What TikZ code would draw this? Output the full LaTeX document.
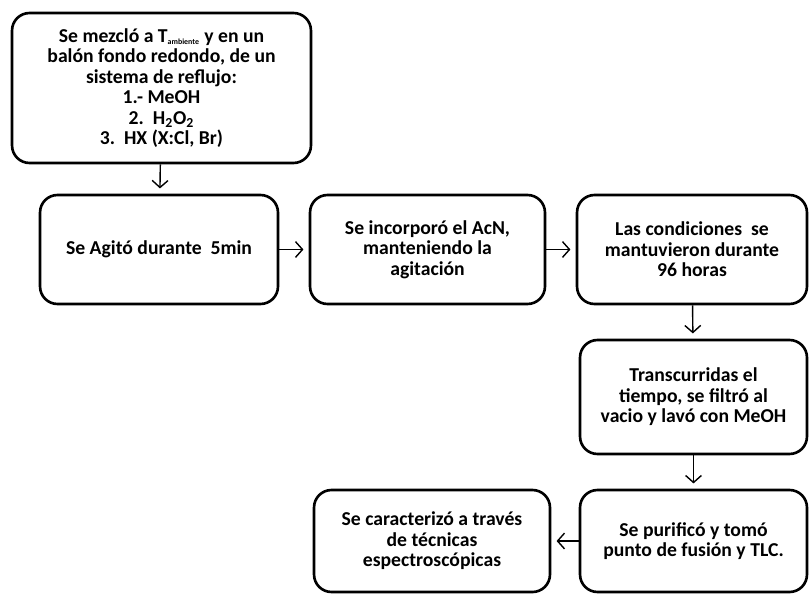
\documentclass[tikz,border=0pt]{standalone}
\usepackage{fontspec}
\setmainfont{Carlito}
\usetikzlibrary{arrows.meta}

\tikzset{
  paso/.style={draw,line width=1.5pt,rounded corners=0.35cm,align=center,
    inner sep=2pt,font=\bfseries\fontsize{11.2}{11.7}\selectfont},
  flecha/.style={line width=0.8pt,-{Straight Barb[length=4pt,width=9pt]},
    shorten >=3pt}
}
\newcommand{\amb}{\textsubscript{\fontsize{4.5}{5}\selectfont ambiente}}

\begin{document}
\begin{tikzpicture}[x=0.02cm,y=-0.02cm]
\useasboundingbox (0,0) rectangle (810,595);

% fila superior
\node[paso,minimum width=5.98cm,minimum height=3cm] (mezcla) at (161.5,88)
  {Se mezcló a T\amb{} y en un\\ balón fondo redondo, de un\\ sistema de reflujo:\\
   1.- MeOH\\ 2.\ \ H\textsubscript{2}O\textsubscript{2}\\ 3.\ \ HX (X:Cl, Br)};

\node[paso,minimum width=4.76cm,minimum height=2.18cm] (agito) at (159,249.5)
  {Se Agitó durante\ \ 5min};
\node[paso,minimum width=4.7cm,minimum height=2.18cm] (acn) at (427.5,249.5)
  {Se incorporó el AcN,\\ manteniendo la\\ agitación};
\node[paso,minimum width=4.6cm,minimum height=2.18cm] (cond) at (692,249.5)
  {Las condiciones\ \ se\\ mantuvieron durante\\ 96 horas};

% columna derecha
\node[paso,minimum width=4.54cm,minimum height=2.28cm] (filtro) at (693.5,397)
  {Transcurridas el\\ tiempo, se filtró al\\ vacio y lavó con MeOH};
\node[paso,minimum width=4.54cm,minimum height=2.04cm] (purif) at (693.5,541)
  {Se purificó y tomó\\ punto de fusión y TLC.};
\node[paso,minimum width=4.72cm,minimum height=2.04cm] (caract) at (432,541)
  {Se caracterizó a través\\ de técnicas\\ espectroscópicas};

\draw[flecha] (mezcla) -- (agito);
\draw[flecha] (agito) -- (acn);
\draw[flecha] (acn) -- (cond);
\draw[flecha] (cond) -- (filtro);
\draw[flecha] (filtro) -- (purif);
\draw[flecha] (purif) -- (caract);
\end{tikzpicture}
\end{document}
